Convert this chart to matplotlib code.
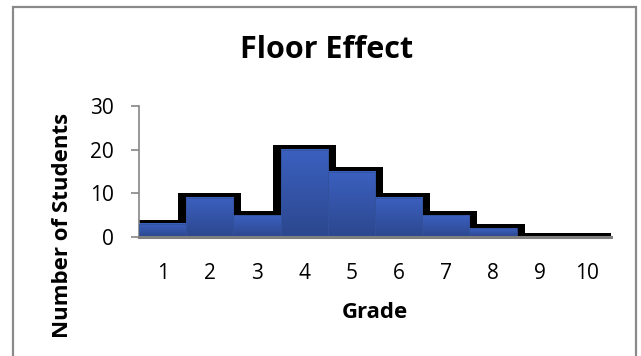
import numpy as np
import matplotlib
matplotlib.use("Agg")
import matplotlib.pyplot as plt
from matplotlib.patches import Rectangle
from matplotlib.colors import to_rgb

grades = [1, 2, 3, 4, 5, 6, 7, 8, 9, 10]
students = [3, 9, 5, 20, 15, 9, 5, 2, 0, 0]
yticks = [0, 10, 20, 30]

plt.rcParams['font.family'] = ['Open Sans', 'DejaVu Sans']

fig = plt.figure(figsize=(6.41, 3.56), dpi=100)
ax = fig.add_axes([139 / 641, 1 - 237 / 356, 472 / 641, 131 / 356])

# thick black outline behind the histogram bars
pad_x, pad_y = 0.17, 1.0
ax.bar(grades, [v + pad_y for v in students], width=1 + 2 * pad_x,
       color='black', linewidth=0, zorder=1)

# blue bars with a light-to-dark vertical gradient
top = np.array(to_rgb('#3b60bf'))
bot = np.array(to_rgb('#2c478e'))
t = np.linspace(0, 1, 64)[:, None]
grad = (top * (1 - t) + bot * t)[:, None, :]
for g, v in zip(grades, students):
    if v <= 0:
        continue
    ax.imshow(grad, extent=[g - 0.5, g + 0.5, 0, v], aspect='auto',
              interpolation='bilinear', zorder=2)
ax.bar(grades, students, width=1, fill=False, edgecolor='#33529c',
       linewidth=0.6, zorder=3)

ax.set_xlim(0.5, 10.5)
ax.set_ylim(0, 30)
ax.set_xticks(grades)
ax.set_xticklabels([str(g) for g in grades])
ax.set_yticks(yticks)
ax.tick_params(axis='x', length=0, pad=19, labelsize=15)
ax.tick_params(axis='y', length=6, width=1.2, color='#868686',
               direction='out', pad=12, labelsize=15)

for s in ['top', 'right']:
    ax.spines[s].set_visible(False)
ax.spines['left'].set_color('#868686')
ax.spines['left'].set_linewidth(1.2)
ax.spines['bottom'].set_color('#7f7f7f')
ax.spines['bottom'].set_linewidth(2.2)
ax.spines['bottom'].set_zorder(4)

fig.text(327 / 641, 1 - 50 / 356, 'Floor Effect', ha='center', va='center',
         fontsize=22, fontweight='bold')
fig.text(375 / 641, 1 - 313 / 356, 'Grade', ha='center', va='center',
         fontsize=16, fontweight='bold')
fig.text(63 / 641, 1 - 225 / 356, 'Number of Students', ha='center',
         va='center', rotation=90, fontsize=16, fontweight='bold')

# chart frame
fig.patches.append(Rectangle((13 / 641, -0.1), 623 / 641, 1.1 - 6.5 / 356,
                             transform=fig.transFigure, fill=False,
                             edgecolor='#8a8a8a', linewidth=1.6))

fig.savefig('out.png', dpi=100)
